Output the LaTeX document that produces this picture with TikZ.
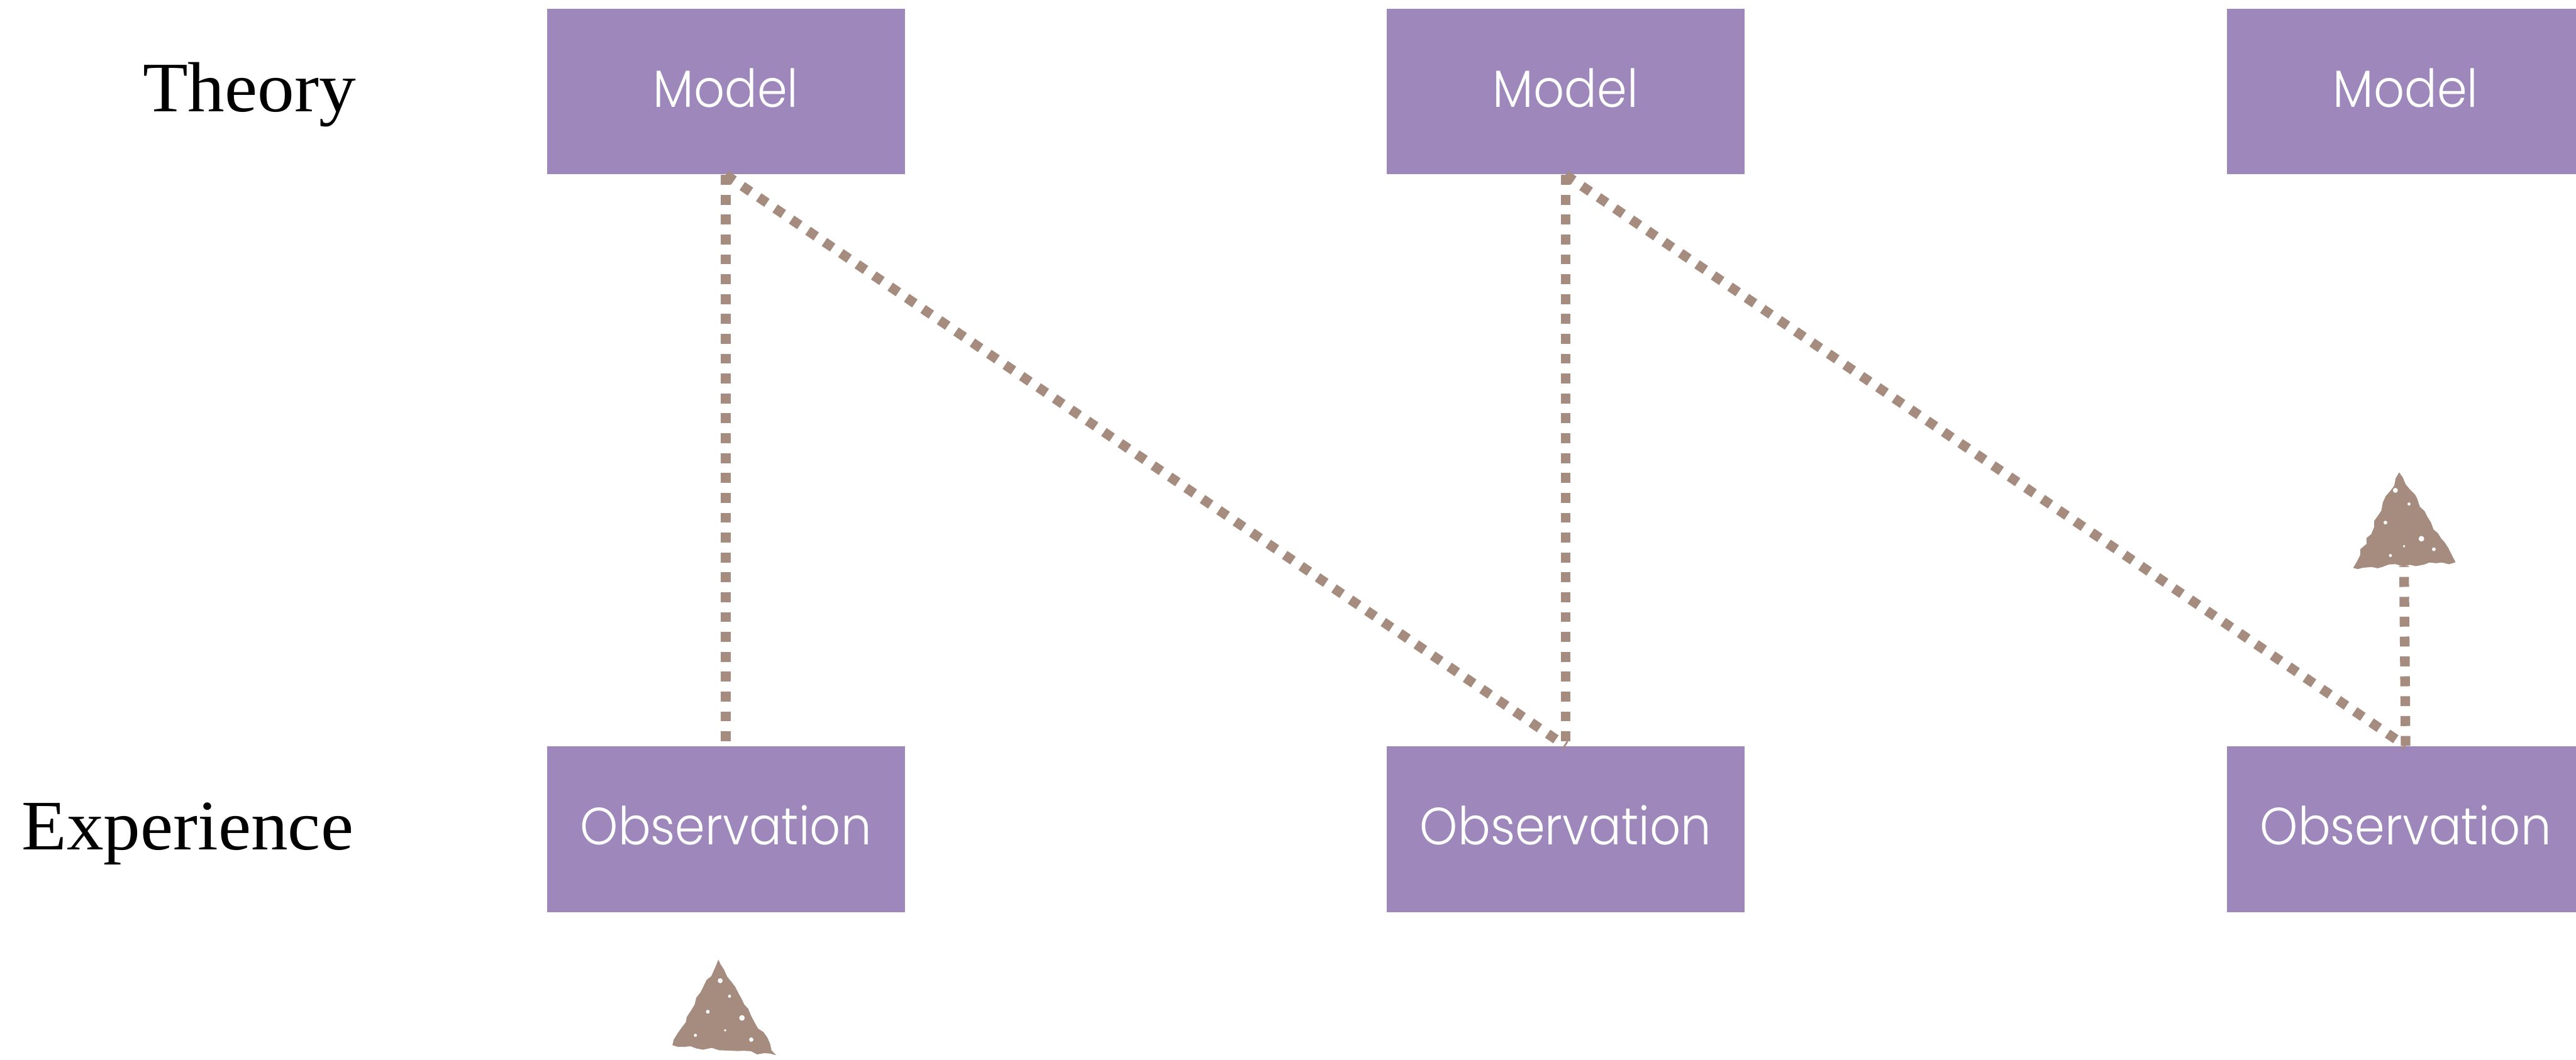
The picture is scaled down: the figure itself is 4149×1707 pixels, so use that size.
\documentclass[tikz,border=0pt]{standalone}
\usepackage{fontspec}
\setmainfont{Liberation Serif}[FakeStretch=1.04]
\newfontfamily\boxfont{Poppins}[UprightFont=*-Light, FakeStretch=0.92]
\usetikzlibrary{decorations.pathmorphing}
\definecolor{boxpurple}{RGB}{157,135,187}
\definecolor{chalk}{RGB}{165,140,126}
\tikzset{
  stage/.style={rectangle, fill=boxpurple, draw=none, inner sep=0pt,
    minimum width=5.76cm, minimum height=2.67cm, text=white,
    font=\boxfont\fontsize{24}{28}\selectfont,
    text height=0.62cm, text depth=0.12cm},
  rowlabel/.style={font=\fontsize{32.5}{38}\selectfont, inner sep=0pt},
  link/.style={draw=chalk, line width=0.155cm, line cap=butt,
    dash pattern=on 0.16cm off 0.16cm},
  chalkhead/.style={fill=chalk,
    decorate, decoration={random steps, segment length=3pt, amplitude=0.8pt}},
}
\begin{document}
\begin{tikzpicture}[x=0.01cm,y=-0.01cm]
\pgfmathsetseed{7}
\clip (0,0) rectangle (4149,1707);
\fill[white] (0,0) rectangle (4149,1707);

% row labels
\node[rowlabel, anchor=base east] (theory) at (574,180) {Theory};
\node[rowlabel, anchor=base east] (experience) at (570,1369) {Experience};

% models and observations
\node[stage] (m1) at (1169,147.5) {Model};
\node[stage] (m2) at (2521.5,147.5) {Model};
\node[stage] (m3) at (3874.5,147.5) {Model};
\node[stage] (o1) at (1169,1336) {Observation};
\node[stage] (o2) at (2521.5,1336) {Observation};
\node[stage] (o3) at (3874.5,1336) {Observation};

% dotted links
\draw[link] (m1.south) -- (o1.north);
\draw[link] (m1.south) -- (o2.north);
\draw[link] (m2.south) -- (o2.north);
\draw[link] (m2.south) -- (o3.north);

% arrow head above the last observation
\coordinate (h3) at (3872,912);
\draw[link] (o3.north) -- (h3);
\fill[chalkhead] (3864,761) -- (3955,906) -- (3790,915) -- cycle;
% lone arrow head below the first observation
\coordinate (h1) at (1166,1692);
\fill[chalkhead] (1157,1546) -- (1250,1700) -- (1083,1684) -- cycle;

% chalk specks
\foreach \p/\r in {(3858,790)/4,(3880,812)/2.5,(3842,842)/3,(3900,868)/4.5,(3872,880)/2,(3920,885)/3,(3850,895)/2.5,
                (1160,1580)/4,(1175,1605)/2.5,(1140,1630)/3,(1195,1640)/4.5,(1168,1660)/2,(1210,1675)/3.5,(1120,1668)/2.5}
  \fill[white] \p circle (\r);
\end{tikzpicture}
\end{document}
